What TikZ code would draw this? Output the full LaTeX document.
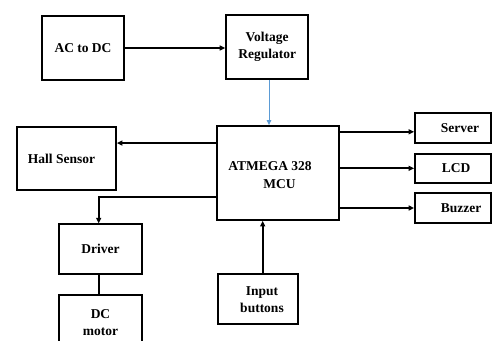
\documentclass[tikz,border=0pt]{standalone}
\usepackage{fontspec}
\setmainfont{Liberation Serif}
\usetikzlibrary{arrows.meta,calc}
\definecolor{lineblue}{RGB}{91,155,213}
\begin{document}
\begin{tikzpicture}[x=1pt,y=-1pt,
  box/.style={draw,line width=1.8pt,inner sep=0pt,fill=white,
    font=\fontsize{13.5}{17}\selectfont\bfseries,align=center},
  arr/.style={line width=1.8pt,-{Triangle[length=5.5pt,width=5pt]}},
  plain/.style={line width=1.8pt},
  bluearr/.style={draw=lineblue,line width=1pt,-{Triangle[length=5pt,width=4.5pt]},color=lineblue}]
\clip (0,0) rectangle (492,340);
\fill[white] (0,0) rectangle (492,340);

\node[box,minimum width=82.6pt,minimum height=64pt] (ac) at (83,48) {AC to DC};
\node[box,minimum width=82.3pt,minimum height=64pt] (vr) at (267.2,47) {Voltage\\Regulator};
\node[box,minimum width=99pt,minimum height=63.3pt,
  label={[xshift=-5pt,font=\fontsize{13.5}{17}\selectfont\bfseries]center:Hall Sensor}] (hall) at (66.5,158.4) {};
\node[box,minimum width=122pt,minimum height=94pt,
  label={[xshift=-8pt,yshift=-2pt,align=left,font=\fontsize{13.5}{18}\selectfont\bfseries]center:ATMEGA 328\\\hspace*{35pt}MCU}] (mcu) at (278,173) {};
\node[box,minimum width=76pt,minimum height=29.7pt,
  label={[xshift=7pt,font=\fontsize{13.5}{17}\selectfont\bfseries]center:Server}] (server) at (453,128) {};
\node[box,minimum width=76pt,minimum height=29pt,
  label={[xshift=3pt,font=\fontsize{13.5}{17}\selectfont\bfseries]center:LCD}] (lcd) at (453,168.3) {};
\node[box,minimum width=76pt,minimum height=29.7pt,
  label={[xshift=8pt,font=\fontsize{13.5}{17}\selectfont\bfseries]center:Buzzer}] (buzzer) at (453,208) {};
\node[box,minimum width=82.4pt,minimum height=50pt] (driver) at (100.5,249.3) {Driver};
\node[box,minimum width=82.4pt,minimum height=55pt] (dcm) at (100.5,322.5) {DC\\motor};
\node[box,minimum width=80pt,minimum height=50pt,
  label={[xshift=4pt,align=center,font=\fontsize{13.5}{17}\selectfont\bfseries]center:Input\\buttons}] (inb) at (258,299.2) {};

\draw[arr] (ac.east) -- (vr.west |- ac.east);
\draw[bluearr] ([xshift=1.8pt]vr.south) -- ([xshift=1.8pt]vr.south |- mcu.north);
\coordinate (mL1) at ($(mcu.north west)+(0,18)$);
\coordinate (mL2) at ($(mcu.north west)+(0,71.5)$);
\draw[arr] (mL1) -- (hall.east |- mL1);
\draw[arr] (mL2) -| ([xshift=-1.8pt]driver.north);
\draw[plain] ([xshift=-1.8pt]driver.south) -- ([xshift=-1.8pt]dcm.north);
\draw[arr] ([xshift=4.7pt]inb.north) -- ([xshift=4.7pt]inb.north |- mcu.south);
\coordinate (mR1) at ($(mcu.north east)+(0,6.7)$);
\draw[arr] (mR1) -- (server.west |- mR1);
\draw[arr] (mcu.east |- lcd.west) -- (lcd.west);
\draw[arr] (mcu.east |- buzzer.west) -- (buzzer.west);
\end{tikzpicture}
\end{document}
